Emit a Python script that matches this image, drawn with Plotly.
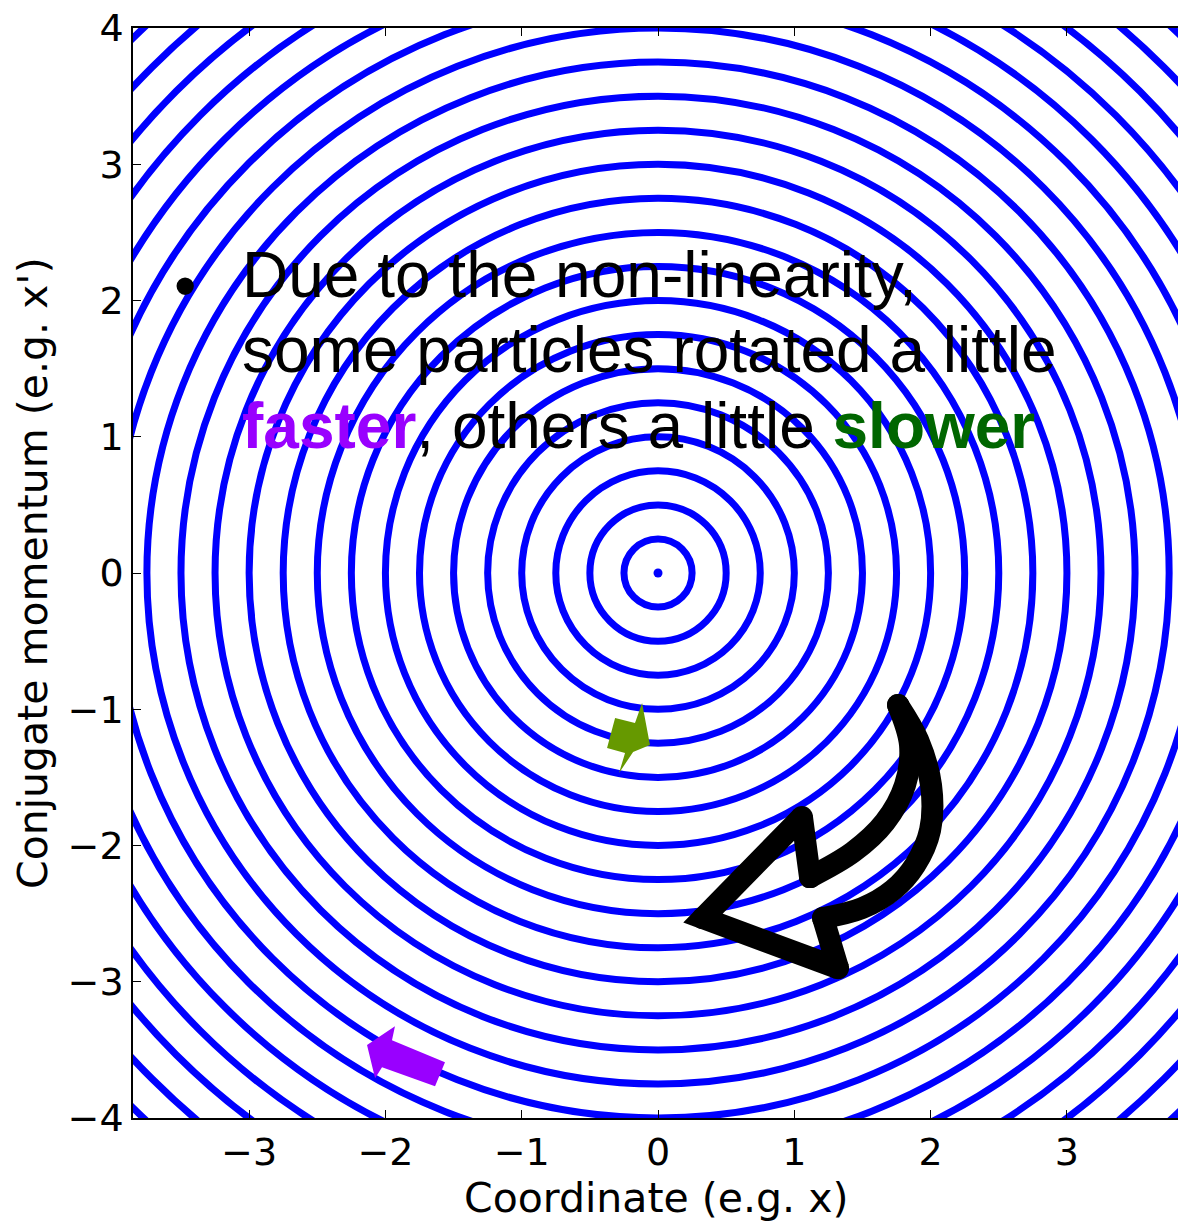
import plotly.graph_objects as go

# Phase-space rings: amplitude (radius) of each closed trajectory
ring_radius = [0.25, 0.50, 0.75, 1.00, 1.25, 1.50, 1.75, 2.00, 2.25, 2.50, 2.75,
               3.00, 3.25, 3.50, 3.75, 4.00, 4.25, 4.50, 4.75, 5.00, 5.25, 5.50]

# Fixed point at the origin
center_x = [0.0]
center_y = [0.0]

# Axis ticks
x_ticks = [-3, -2, -1, 0, 1, 2, 3]
y_ticks = [-4, -3, -2, -1, 0, 1, 2, 3, 4]

# Large curved rotation arrow, in three strokes:
# outer curve of the shaft, the arrow head, inner curve of the shaft
rot_outer_x = [1.761, 1.908, 2.003, 1.996, 1.886, 1.724, 1.497, 1.211]
rot_outer_y = [-0.969, -1.226, -1.557, -1.887, -2.144, -2.327, -2.460, -2.533]
rot_head_x = [1.211, 1.321, 0.330, 1.056, 1.115]
rot_head_y = [-2.533, -2.900, -2.533, -1.791, -2.232]
rot_inner_x = [1.115, 1.431, 1.665, 1.812, 1.849, 1.761]
rot_inner_y = [-2.232, -2.048, -1.828, -1.557, -1.263, -0.969]

# Small "slower" arrow polygon
slow_arrow_x = [-0.315, -0.169, -0.117, -0.059, -0.183, -0.286, -0.242, -0.374, -0.315]
slow_arrow_y = [-1.065, -1.101, -0.954, -1.263, -1.314, -1.468, -1.322, -1.285, -1.065]

# "faster" arrow polygon
fast_arrow_x = [-2.135, -1.930, -1.952, -1.563, -1.636, -2.025, -2.076, -2.135]
fast_arrow_y = [-3.465, -3.326, -3.429, -3.590, -3.767, -3.627, -3.708, -3.465]

RING_BLUE = "#0000ff"
PURPLE = "rgb(153,0,255)"
OLIVE = "rgb(102,153,0)"
DARK_GREEN = "rgb(0,102,0)"

fig = go.Figure()

# rings as circles in data coordinates
shapes = []
for r in ring_radius:
    shapes.append(dict(type="circle", xref="x", yref="y",
                       x0=-r, x1=r, y0=-r, y1=r,
                       line=dict(color=RING_BLUE, width=7), layer="below"))

fig.add_trace(go.Scatter(x=center_x, y=center_y, mode="markers",
                         marker=dict(color=RING_BLUE, size=9),
                         hoverinfo="skip", showlegend=False))

fig.add_trace(go.Scatter(x=fast_arrow_x, y=fast_arrow_y, mode="lines", fill="toself",
                         fillcolor=PURPLE, line=dict(width=0, color=PURPLE),
                         hoverinfo="skip", showlegend=False))

fig.add_trace(go.Scatter(x=slow_arrow_x, y=slow_arrow_y, mode="lines", fill="toself",
                         fillcolor=OLIVE, line=dict(width=0, color=OLIVE),
                         hoverinfo="skip", showlegend=False))

# rotation arrow: smooth shaft curves, straight head; round caps at the ends
for xs, ys, shape in [(rot_outer_x, rot_outer_y, "spline"),
                      (rot_head_x, rot_head_y, "linear"),
                      (rot_inner_x, rot_inner_y, "spline")]:
    fig.add_trace(go.Scatter(x=xs, y=ys, mode="lines",
                             line=dict(width=22, color="black", shape=shape, smoothing=1),
                             hoverinfo="skip", showlegend=False))
    fig.add_trace(go.Scatter(x=[xs[0], xs[-1]], y=[ys[0], ys[-1]], mode="markers",
                             marker=dict(size=22, color="black"),
                             hoverinfo="skip", showlegend=False))
fig.add_trace(go.Scatter(x=rot_head_x[1:4], y=rot_head_y[1:4], mode="markers",
                         marker=dict(size=22, color="black"),
                         hoverinfo="skip", showlegend=False))

text_font = dict(family="Liberation Sans, Arial, sans-serif", size=64, color="black")
lines = [
    "Due to the non-linearity,",
    "some particles rotated a little",
    f"<b><span style='color:{PURPLE}'>faster</span></b>, others a little "
    f"<b><span style='color:{DARK_GREEN}'>slower</span></b>",
]
line_y = [2.19, 1.64, 1.08]

annotations = []
for txt, yy in zip(lines, line_y):
    annotations.append(dict(x=-3.07, y=yy, xref="x", yref="y", text=txt,
                            showarrow=False, xanchor="left", yanchor="middle",
                            font=text_font))
annotations.append(dict(x=-3.47, y=2.11, xref="x", yref="y", text="•",
                        showarrow=False, xanchor="center", yanchor="middle",
                        font=text_font))

title_font = dict(family="DejaVu Sans, sans-serif", size=41, color="black")
annotations.append(dict(x=0.5, y=0, xref="paper", yref="paper",
                        text="Coordinate (e.g. x)", showarrow=False,
                        xanchor="center", yanchor="middle", yshift=-80,
                        font=title_font))
annotations.append(dict(x=0, y=0.5, xref="paper", yref="paper",
                        text="Conjugate momentum (e.g. x')", showarrow=False,
                        xanchor="center", yanchor="middle", xshift=-100,
                        textangle=-90, font=title_font))

tick_font = dict(family="DejaVu Sans, sans-serif", size=38, color="black")

fig.update_layout(
    width=1178, height=1221,
    margin=dict(l=133, r=0, t=28, b=103),
    paper_bgcolor="white", plot_bgcolor="white",
    shapes=shapes, annotations=annotations,
    showlegend=False,
    xaxis=dict(range=[-3.852, 3.815], tickvals=x_ticks, ticks="inside", ticklen=8,
               tickwidth=1, tickcolor="black", showline=True, linecolor="black",
               linewidth=1.5, mirror="ticks", showgrid=False, zeroline=False,
               tickfont=tick_font, fixedrange=True),
    yaxis=dict(range=[-4, 4], tickvals=y_ticks, ticks="inside", ticklen=8,
               tickwidth=1, tickcolor="black", showline=True, linecolor="black",
               linewidth=1.5, mirror=False, showgrid=False, zeroline=False,
               tickfont=tick_font, fixedrange=True),
)

fig.write_html("out.html")
